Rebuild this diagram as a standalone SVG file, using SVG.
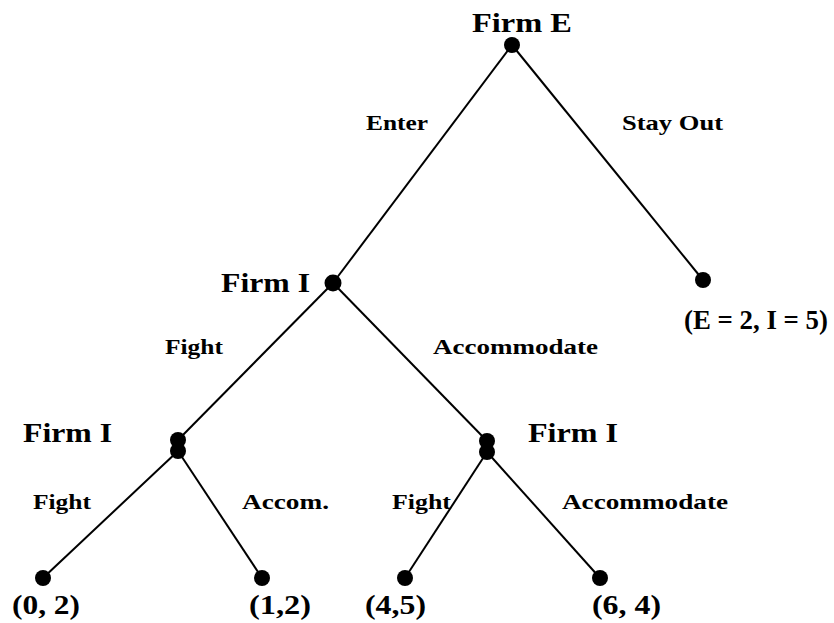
<svg xmlns="http://www.w3.org/2000/svg" width="834" height="623" viewBox="0 0 834 623">
<style>
.e{stroke:#000;stroke-width:2;fill:none}
.d{fill:#000}
text{font-family:"Liberation Serif","Times New Roman",serif;font-weight:bold;fill:#000}
.f{font-size:28px}
.l{font-size:22px}
.p{font-size:28px}
</style>
<rect width="834" height="623" fill="#fff"/>
<g id="connectors">
<line class="e" x1="512" y1="45" x2="333" y2="283"/>
<line class="e" x1="512" y1="45" x2="703" y2="280"/>
<line class="e" x1="333" y1="283" x2="178" y2="440"/>
<line class="e" x1="333" y1="283" x2="487" y2="441"/>
<line class="e" x1="178" y1="451" x2="43" y2="578"/>
<line class="e" x1="178" y1="451" x2="262" y2="578"/>
<line class="e" x1="487" y1="452" x2="405" y2="578"/>
<line class="e" x1="487" y1="452" x2="600" y2="578"/>
</g>
<g id="firmE"><circle class="d" cx="512" cy="45" r="8"/><text class="f" x="472" y="32" textLength="100" lengthAdjust="spacingAndGlyphs">Firm E</text></g>
<g id="firmI-top"><circle class="d" cx="333" cy="283" r="8.5"/><text class="f" x="221" y="292" textLength="89" lengthAdjust="spacingAndGlyphs">Firm I</text></g>
<g id="stayout-leaf"><circle class="d" cx="703" cy="280" r="8"/><text class="p" x="684" y="329" textLength="144" lengthAdjust="spacingAndGlyphs">(E = 2, I = 5)</text></g>
<g id="firmI-left"><circle class="d" cx="178" cy="440" r="8"/><circle class="d" cx="178" cy="451" r="8"/><text class="f" x="23" y="442" textLength="89" lengthAdjust="spacingAndGlyphs">Firm I</text></g>
<g id="firmI-right"><circle class="d" cx="487" cy="441" r="8"/><circle class="d" cx="487" cy="452" r="8"/><text class="f" x="528" y="442" textLength="90" lengthAdjust="spacingAndGlyphs">Firm I</text></g>
<g id="leaf1"><circle class="d" cx="43" cy="578" r="8"/><text class="p" x="12" y="614" textLength="68" lengthAdjust="spacingAndGlyphs">(0, 2)</text></g>
<g id="leaf2"><circle class="d" cx="262" cy="578" r="8"/><text class="p" x="249" y="614" textLength="62" lengthAdjust="spacingAndGlyphs">(1,2)</text></g>
<g id="leaf3"><circle class="d" cx="405" cy="578" r="8"/><text class="p" x="365" y="614" textLength="61" lengthAdjust="spacingAndGlyphs">(4,5)</text></g>
<g id="leaf4"><circle class="d" cx="600" cy="578" r="8"/><text class="p" x="592" y="614" textLength="69" lengthAdjust="spacingAndGlyphs">(6, 4)</text></g>
<g id="labels">
<text class="l" x="366" y="130" textLength="62" lengthAdjust="spacingAndGlyphs">Enter</text>
<text class="l" x="622" y="130" textLength="101" lengthAdjust="spacingAndGlyphs">Stay Out</text>
<text class="l" x="165" y="354" textLength="58" lengthAdjust="spacingAndGlyphs">Fight</text>
<text class="l" x="433" y="354" textLength="165" lengthAdjust="spacingAndGlyphs">Accommodate</text>
<text class="l" x="33" y="509" textLength="58" lengthAdjust="spacingAndGlyphs">Fight</text>
<text class="l" x="242" y="509" textLength="87" lengthAdjust="spacingAndGlyphs">Accom.</text>
<text class="l" x="392" y="509" textLength="59" lengthAdjust="spacingAndGlyphs">Fight</text>
<text class="l" x="562" y="509" textLength="166" lengthAdjust="spacingAndGlyphs">Accommodate</text>
</g>
</svg>
